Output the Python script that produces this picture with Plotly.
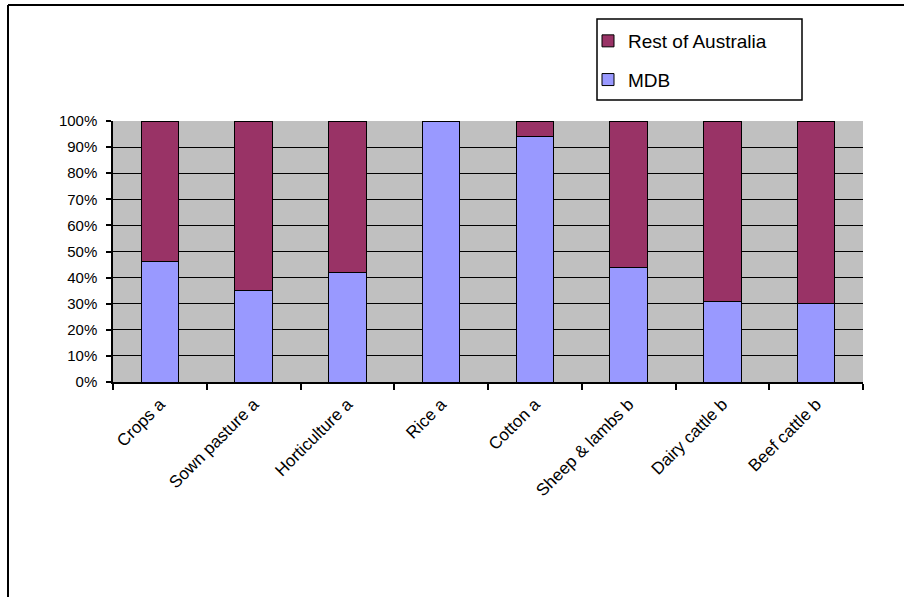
import plotly.graph_objects as go

# Share of each agricultural activity located in the Murray-Darling Basin (MDB)
categories = ["Crops a", "Sown pasture a", "Horticulture a", "Rice a",
              "Cotton a", "Sheep & lambs b", "Dairy cattle b", "Beef cattle b"]
mdb_pct = [46, 35, 42, 100, 94, 44, 31, 30]
rest_pct = [100 - v for v in mdb_pct]

FONT = "Liberation Sans, Arial, sans-serif"

fig = go.Figure()
fig.add_trace(go.Bar(
    x=categories, y=[v / 100 for v in mdb_pct], name="MDB",
    marker=dict(color="#9999FF", line=dict(color="black", width=1)),
    width=0.4, legendgroup="mdb", legendrank=2,
))
fig.add_trace(go.Bar(
    x=categories, y=[v / 100 for v in rest_pct], name="Rest of Australia",
    marker=dict(color="#993366", line=dict(color="black", width=1)),
    width=0.4, legendgroup="rest", legendrank=1,
))

# pixel helpers for paper coordinates (plot area 113..863 x 121..382)
L, R, T, B = 113, 41, 121, 215
W, H = 904 - L - R, 597 - T - B


def px(x):
    return (x - L) / W


def py(y):
    return (597 - B - y) / H


shapes = [
    # outer chart frame (left and top edges)
    dict(type="line", xref="paper", yref="paper", x0=px(8), x1=px(8),
         y0=py(5), y1=py(610), line=dict(color="black", width=2), layer="above"),
    dict(type="line", xref="paper", yref="paper", x0=px(8), x1=px(920),
         y0=py(5), y1=py(5), line=dict(color="black", width=2), layer="above"),
    # legend frame
    dict(type="rect", xref="paper", yref="paper", x0=px(597), x1=px(802),
         y0=py(19), y1=py(100), line=dict(color="black", width=1.5),
         fillcolor="rgba(0,0,0,0)", layer="above"),
]

fig.update_layout(
    width=904, height=597,
    margin=dict(l=L, r=R, t=T, b=B, pad=0),
    paper_bgcolor="white",
    plot_bgcolor="#C0C0C0",
    barmode="stack",
    font=dict(family=FONT, size=15, color="black"),
    showlegend=True,
    legend=dict(
        x=px(588), y=py(22), xanchor="left", yanchor="top",
        bgcolor="rgba(0,0,0,0)", borderwidth=0,
        traceorder="grouped", tracegroupgap=11,
        font=dict(family=FONT, size=19, color="black"),
        itemwidth=30,
    ),
    shapes=shapes,
    xaxis=dict(
        type="category", tickangle=-45, showgrid=False,
        showline=True, linecolor="black", linewidth=1.5,
        ticks="outside", tickson="boundaries", ticklen=6, tickcolor="black",
        tickwidth=1.5, tickfont=dict(family=FONT, size=17, color="black"),
        ticklabelstandoff=4,
    ),
    yaxis=dict(
        range=[0, 1], dtick=0.1, tickformat=".0%",
        showgrid=True, gridcolor="black", gridwidth=1.2,
        showline=True, linecolor="black", linewidth=1.5,
        ticks="outside", ticklen=5, tickcolor="black", tickwidth=1.5,
        tickfont=dict(family=FONT, size=15, color="black"),
        ticklabelstandoff=6, zeroline=False,
    ),
)

fig.write_html("out.html")
